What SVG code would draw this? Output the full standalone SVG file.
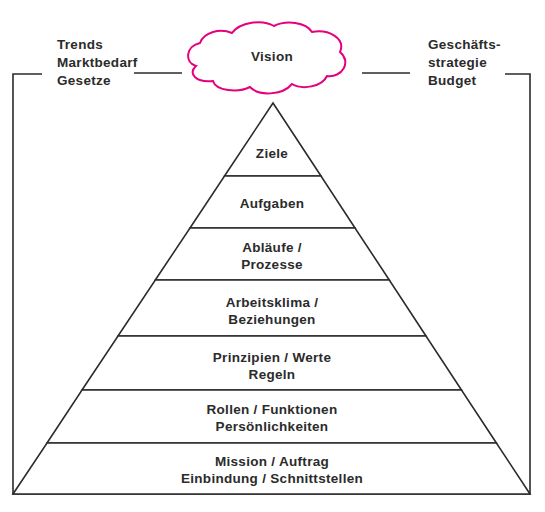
<svg xmlns="http://www.w3.org/2000/svg" width="545" height="512" viewBox="0 0 545 512">
<style>
.ln{fill:none;stroke:#2b2b2b;stroke-width:1.6}
.ly{fill:#fff;stroke:#2b2b2b;stroke-width:1.6;stroke-linejoin:miter}
.t{font-family:"Liberation Sans",Arial,sans-serif;font-weight:bold;font-size:13.5px;fill:#2b2b2b;letter-spacing:0.3px}
.c{text-anchor:middle}
.cloud{fill:#fff;stroke:#e5007d;stroke-width:2}
</style>
<rect width="545" height="512" fill="#fff"/>
<g id="connectors">
<path class="ln" d="M42,74 H13 V494 H530 V74 H505"/>
<line class="ln" x1="134" y1="73" x2="182" y2="73"/>
<line class="ln" x1="362" y1="73" x2="410" y2="73"/>
</g>
<g id="left-label">
<text class="t" x="57" y="49">Trends</text>
<text class="t" x="57" y="67">Marktbedarf</text>
<text class="t" x="57" y="85">Gesetze</text>
</g>
<g id="right-label">
<text class="t" x="428" y="49">Geschäfts-</text>
<text class="t" x="428" y="67">strategie</text>
<text class="t" x="428" y="85">Budget</text>
</g>
<g id="vision">
<path class="cloud" d="M196,66 C184,62 186,46 200,43 C204,32 220,28 232,33 C240,22 262,19 274,26 C286,20 306,22 312,32 C328,29 346,38 340,52 C352,62 342,78 327,76 C322,87 302,90 292,84 C282,96 258,96 250,87 C238,93 216,91 213,81 C197,83 187,74 196,66 Z"/>
<text class="t c" x="272" y="61">Vision</text>
</g>
<g id="ziele">
<polygon class="ly" points="273,103 321,176 224.5,176"/>
<text class="t c" x="272" y="158">Ziele</text>
</g>
<g id="aufgaben">
<polygon class="ly" points="224.5,176 321,176 355,228 190,228"/>
<text class="t c" x="272" y="208">Aufgaben</text>
</g>
<g id="ablaeufe">
<polygon class="ly" points="190,228 355,228 389.3,280 155.3,280"/>
<text class="t c" x="272" y="252">Abläufe /</text>
<text class="t c" x="272" y="269">Prozesse</text>
</g>
<g id="arbeitsklima">
<polygon class="ly" points="155.3,280 389.3,280 426,336 118,336"/>
<text class="t c" x="272" y="307">Arbeitsklima /</text>
<text class="t c" x="272" y="324">Beziehungen</text>
</g>
<g id="prinzipien">
<polygon class="ly" points="118,336 426,336 461.5,390 82,390"/>
<text class="t c" x="272" y="362">Prinzipien / Werte</text>
<text class="t c" x="272" y="379">Regeln</text>
</g>
<g id="rollen">
<polygon class="ly" points="82,390 461.5,390 496.4,443 47,443"/>
<text class="t c" x="272" y="414">Rollen / Funktionen</text>
<text class="t c" x="272" y="431">Persönlichkeiten</text>
</g>
<g id="mission">
<polygon class="ly" points="47,443 496.4,443 530,494 13,494"/>
<text class="t c" x="272" y="466">Mission / Auftrag</text>
<text class="t c" x="272" y="483">Einbindung / Schnittstellen</text>
</g>
</svg>
